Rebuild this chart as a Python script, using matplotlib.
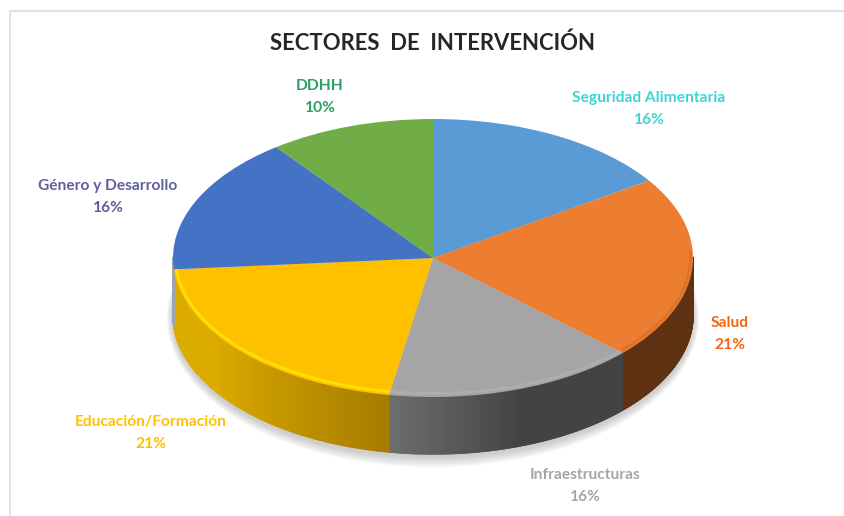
import numpy as np
import matplotlib
matplotlib.use('Agg')
import matplotlib.pyplot as plt
from matplotlib.collections import PolyCollection
from matplotlib.patches import Ellipse
from matplotlib.colors import to_rgb

plt.rcParams['font.family'] = ['Lato', 'DejaVu Sans']

categories = ['Seguridad Alimentaria', 'Salud', 'Infraestructuras',
              'Educación/Formación', 'Género y Desarrollo', 'DDHH']
# porciones; las etiquetas muestran el valor redondeado
shares = [15.6, 21.4, 15.7, 21.0, 16.0, 10.3]
percent_labels = ['16%', '21%', '16%', '21%', '16%', '10%']

top_colors = ['#5b9bd5', '#ed7d31', '#a5a5a5', '#ffc000', '#4472c4', '#70ad47']
label_colors = ['#3fd4d4', '#f4660f', '#a6a6a6', '#ffc000', '#5f5f9e', '#2f9e63']
# pared lateral: color al inicio y al final de cada sector (sentido horario)
wall_start = ['#3a6a96', '#5e3113', '#434343', '#a67c00', '#9aa4b2', '#4e7a31']
wall_end = ['#3a6a96', '#5e3113', '#6e6e6e', '#dcab00', '#9aa4b2', '#4e7a31']
# brillo del borde: color, grosor, alpha
rim_colors = ['#7fb5e5', '#b8622a', '#c0c0c0', '#ffe600', '#6c93dc', '#90c868']
rim_alpha = [0.0, 0.35, 0.35, 0.85, 0.0, 0.0]

W, H = 845, 516
cx, cy, rx, ry = 433, 258, 260, 139
depth = 57 / ry

fig = plt.figure(figsize=(W / 100, H / 100), dpi=100)
ax = fig.add_axes([0, 0, 1, 1])

# sombra suave debajo del pastel
for k in range(12):
    grow = (12 - k) * 0.004
    ax.add_patch(Ellipse((0, -depth - 0.02), 2 + grow, 2 + grow * 3.2,
                         fc='#8a8a8a', ec='none', alpha=0.04, zorder=1))

ends = np.cumsum(shares) / sum(shares) * 360
starts = np.r_[0, ends[:-1]]

# pared lateral
quads, quad_colors = [], []
for i in range(len(shares)):
    ang = np.linspace(starts[i], ends[i], 240)
    xs = np.sin(np.radians(ang))
    ys = np.cos(np.radians(ang))
    c0, c1 = np.array(to_rgb(wall_start[i])), np.array(to_rgb(wall_end[i]))
    for j in range(len(ang) - 1):
        if ys[j] > 0 and ys[j + 1] > 0:
            continue
        quads.append([(xs[j], ys[j]), (xs[j + 1], ys[j + 1]),
                      (xs[j + 1], ys[j + 1] - depth), (xs[j], ys[j] - depth)])
        t = (j + 0.5) / (len(ang) - 1)
        if categories[i] == 'Infraestructuras':
            t = min(1, max(0, (t - 0.48) / 0.52))
        elif categories[i] == 'Educación/Formación':
            t = min(1, t / 0.62)
        quad_colors.append(c0 + (c1 - c0) * t)
ax.add_collection(PolyCollection(quads, facecolors=quad_colors, edgecolors=quad_colors,
                                 linewidths=1.0, zorder=2))

# cara superior
wedges, _ = ax.pie(shares, colors=top_colors, startangle=90, counterclock=False,
                   radius=1, center=(0, 0), wedgeprops={'linewidth': 0})
for w in wedges:
    w.set_zorder(3)

# brillo del borde frontal
for i in range(len(shares)):
    ang = np.linspace(starts[i], ends[i], 120)
    ang = ang[np.cos(np.radians(ang)) < 0.06]
    if len(ang) < 2 or rim_alpha[i] == 0:
        continue
    x = 0.99 * np.sin(np.radians(ang))
    y = 0.975 * np.cos(np.radians(ang))
    ax.plot(x, y, color=rim_colors[i], lw=2.0, alpha=rim_alpha[i], zorder=4, solid_capstyle='butt')

ax.set_aspect('auto')
ax.set_xlim(-cx / rx, (W - cx) / rx)
ax.set_ylim((cy - H) / ry, cy / ry)
ax.axis('off')


def px(x, y):
    return x / W, 1 - y / H


# borde gris del recorte: arriba e izquierda
fig.add_artist(plt.Line2D([10 / W, 10 / W, 1], [0, 1 - 11 / H, 1 - 11 / H],
                          color='#e3e3e3', lw=1.5))

fig.text(*px(433, 43), 'SECTORES  DE  INTERVENCIÓN', fontsize=15.9, fontweight='bold',
         color='#262626', ha='center', va='center')

label_pos = [(649, 109), (730, 334), (585, 486), (151, 433), (108, 197), (320, 97)]
for name, val, pos, col in zip(categories, percent_labels, label_pos, label_colors):
    fig.text(*px(*pos), f'{name}\n{val}', fontsize=11.2, fontweight='bold', color=col,
             ha='center', va='center', linespacing=1.8)

fig.savefig('out.png', dpi=100)
